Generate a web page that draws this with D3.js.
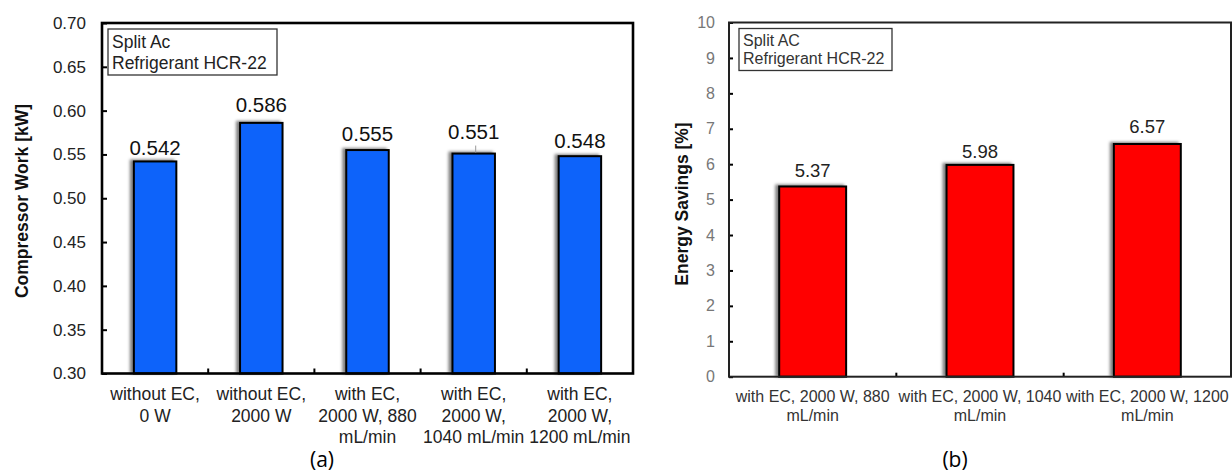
<!DOCTYPE html>
<html>
<head>
<meta charset="utf-8">
<script src="https://cdn.jsdelivr.net/npm/d3@7"></script>
<style>
body { margin: 0; background: #fff; }
svg { display: block; font-family: "Liberation Sans", Arial, sans-serif; }
.panel-tag { font-family: "Open Sans", "Noto Sans", sans-serif; font-size: 21px; }
</style>
</head>
<body>
<svg id="chart" width="1232" height="475"></svg>
<script>
// panel (a) - compressor work
var aCategories = ["without EC,\n0 W", "without EC,\n2000 W", "with EC,\n2000 W, 880\nmL/min", "with EC,\n2000 W,\n1040 mL/min", "with EC,\n2000 W,\n1200 mL/min"];
var aValues = [0.542, 0.586, 0.555, 0.551, 0.548];
var aTicks = [0.30, 0.35, 0.40, 0.45, 0.50, 0.55, 0.60, 0.65, 0.70];
var aLegend = ["Split Ac", "Refrigerant HCR-22"];

// panel (b) - energy savings
var bCategories = ["with EC, 2000 W, 880\nmL/min", "with EC, 2000 W, 1040\nmL/min", "with EC, 2000 W, 1200\nmL/min"];
var bValues = [5.37, 5.98, 6.57];
var bTicks = [0, 1, 2, 3, 4, 5, 6, 7, 8, 9, 10];
var bLegend = ["Split AC", "Refrigerant HCR-22"];

var svg = d3.select("#chart");

var defs = svg.append("defs");
defs.append("filter").attr("id", "shade")
    .attr("x", "-30%").attr("y", "-10%").attr("width", "160%").attr("height", "120%")
  .append("feDropShadow")
    .attr("dx", -3).attr("dy", -1).attr("stdDeviation", 1.8)
    .attr("flood-color", "#000").attr("flood-opacity", 0.5);

function drawPanel(cfg) {
    var g = svg.append("g");
    var x = d3.scaleBand().domain(d3.range(cfg.values.length))
        .range([cfg.left, cfg.right]).paddingInner(0.6).paddingOuter(0.3);
    var y = d3.scaleLinear().domain(cfg.domain).range([cfg.bottom, cfg.top]);

    // bars
    g.selectAll("rect.bar").data(cfg.values).join("rect")
        .attr("class", "bar")
        .attr("x", function(d, i) { return x(i); })
        .attr("y", function(d) { return y(d); })
        .attr("width", x.bandwidth())
        .attr("height", function(d) { return cfg.bottom - y(d); })
        .attr("fill", cfg.color)
        .attr("stroke", "#000").attr("stroke-width", 2)
        .attr("filter", "url(#shade)");

    // value labels
    g.selectAll("text.val").data(cfg.values).join("text")
        .attr("class", "val")
        .attr("x", function(d, i) { return x(i) + x.bandwidth() / 2; })
        .attr("y", function(d, i) { return y(d) - cfg.lift[i]; })
        .attr("text-anchor", "middle")
        .attr("font-size", cfg.valSize)
        .attr("fill", cfg.valColor)
        .text(function(d) { return d.toFixed(cfg.digits); });

    // y axis, ticks pointing inward
    var yAxis = d3.axisLeft(y).tickValues(cfg.ticks).tickSize(-cfg.tickLen)
        .tickPadding(cfg.tickPad).tickFormat(d3.format(cfg.tickFmt));
    var ya = g.append("g").attr("transform", "translate(" + cfg.left + ",0)").call(yAxis);
    ya.select(".domain").remove();
    ya.selectAll(".tick line").attr("stroke", "#000").attr("stroke-width", 2);
    ya.selectAll(".tick text").attr("font-size", cfg.tickSize).attr("fill", cfg.tickColor)
        .attr("font-family", "'Liberation Sans', Arial, sans-serif");

    // x ticks between categories
    var step = x.step();
    var xt = d3.range(1, cfg.values.length).map(function(i) { return cfg.left + i * step; });
    g.selectAll("line.xt").data(xt).join("line")
        .attr("x1", function(d) { return d; }).attr("x2", function(d) { return d; })
        .attr("y1", cfg.bottom).attr("y2", cfg.bottom - cfg.tickLen)
        .attr("stroke", "#000").attr("stroke-width", 2);

    // frame
    g.append("rect")
        .attr("x", cfg.left).attr("y", cfg.top)
        .attr("width", cfg.right - cfg.left).attr("height", cfg.bottom - cfg.top)
        .attr("fill", "none").attr("stroke", cfg.frameColor).attr("stroke-width", cfg.frameWidth);

    // category labels
    var cats = g.selectAll("text.cat").data(cfg.categories).join("text")
        .attr("class", "cat")
        .attr("text-anchor", "middle")
        .attr("font-size", cfg.catSize)
        .attr("fill", cfg.catColor);
    cats.each(function(d, i) {
        var t = d3.select(this);
        d.split("\n").forEach(function(line, k) {
            t.append("tspan")
                .attr("x", x(i) + x.bandwidth() / 2)
                .attr("y", cfg.catY + k * cfg.catLine)
                .text(line);
        });
    });

    // legend box
    g.append("rect")
        .attr("x", cfg.legend.x).attr("y", cfg.legend.y)
        .attr("width", cfg.legend.w).attr("height", cfg.legend.h)
        .attr("fill", "#fff").attr("stroke", "#333").attr("stroke-width", 1.3);
    cfg.legendText.forEach(function(s, k) {
        g.append("text")
            .attr("x", cfg.legend.x + 4).attr("y", cfg.legend.y + cfg.legend.base + k * cfg.legend.line)
            .attr("font-size", cfg.legend.size).attr("fill", cfg.legend.color)
            .text(s);
    });

    // y title
    g.append("text")
        .attr("transform", "translate(" + cfg.titleX + "," + cfg.titleY + ") rotate(-90)")
        .attr("text-anchor", "middle")
        .attr("font-size", cfg.titleSize).attr("font-weight", "bold").attr("fill", "#111")
        .text(cfg.title);

    // panel tag
    g.append("text").attr("class", "panel-tag")
        .attr("x", cfg.tagX).attr("y", 467)
        .attr("text-anchor", "middle")
        .text(cfg.tag);

    return { x: x, y: y, g: g };
}

var pa = drawPanel({
    values: aValues, categories: aCategories, ticks: aTicks, legendText: aLegend,
    domain: [0.30, 0.70], left: 102, right: 633, top: 23, bottom: 373.5,
    color: "#0a64fa", digits: 3, lift: [6, 11, 9, 15, 8],
    valSize: 20.5, valColor: "#111",
    tickLen: 5, tickPad: 16, tickFmt: ".2f", tickSize: 17, tickColor: "#222",
    frameColor: "#000", frameWidth: 2.6,
    catSize: 17.5, catColor: "#222", catY: 400, catLine: 21.5,
    legend: { x: 108, y: 29, w: 169, h: 46, base: 19, line: 21, size: 17.5, color: "#222" },
    title: "Compressor Work [kW]", titleSize: 17.5, titleX: 28, titleY: 201,
    tag: "(a)", tagX: 322
});

// small leader line above the 0.551 bar
pa.g.append("line")
    .attr("x1", pa.x(3) + pa.x.bandwidth() / 2 + 2).attr("x2", pa.x(3) + pa.x.bandwidth() / 2 + 2)
    .attr("y1", pa.y(aValues[3]) - 8).attr("y2", pa.y(aValues[3]) - 1)
    .attr("stroke", "#999").attr("stroke-width", 1);

drawPanel({
    values: bValues, categories: bCategories, ticks: bTicks, legendText: bLegend,
    domain: [0, 10], left: 729, right: 1231, top: 22.5, bottom: 376.7,
    color: "#ff0000", digits: 2, lift: [9, 7, 10.5],
    valSize: 18.5, valColor: "#222",
    tickLen: 4, tickPad: 14, tickFmt: "d", tickSize: 16, tickColor: "#777",
    frameColor: "#222", frameWidth: 2,
    catSize: 16, catColor: "#333", catY: 401.5, catLine: 19,
    legend: { x: 739, y: 28.5, w: 153, h: 42, base: 17, line: 18.5, size: 16, color: "#333" },
    title: "Energy Savings [%]", titleSize: 17.5, titleX: 688, titleY: 204,
    tag: "(b)", tagX: 955
});
</script>
</body>
</html>
